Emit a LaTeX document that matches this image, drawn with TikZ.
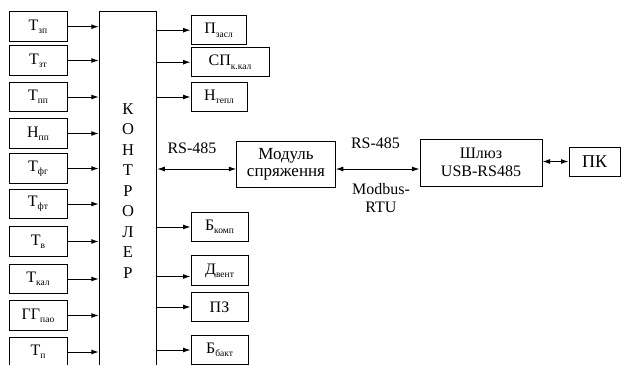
\documentclass[tikz,border=0pt]{standalone}
\usepackage{fontspec}
\setmainfont{Liberation Serif}
\usetikzlibrary{arrows.meta, positioning}
\newcommand{\lowidx}[1]{\raisebox{-0.45ex}{\fontsize{9.5}{10}\selectfont #1}}

\begin{document}
\begin{tikzpicture}[x=1pt, y=-1pt, font=\fontsize{16}{18}\selectfont]
    % Stijlen
    \tikzstyle{sensor} = [rectangle, minimum width=58pt, minimum height=29.5pt, inner sep=0pt, text centered, draw=black, line width=1pt]
    \tikzstyle{vykon} = [rectangle, minimum height=29.5pt, inner sep=0pt, text centered, draw=black, line width=1pt]
    \tikzstyle{kontroler} = [rectangle, minimum width=57.5pt, minimum height=358.6pt, align=center, draw=black, line width=1pt, font=\fontsize{16.5}{20.5}\selectfont]
    \tikzstyle{blok} = [rectangle, inner sep=0pt, align=center, draw=black, line width=1pt]
    \tikzstyle{arrow} = [line width=1pt, -{Latex[length=7.5pt, width=5pt]}]
    \tikzstyle{dblarrow} = [line width=1pt, {Latex[length=7.5pt, width=5pt]}-{Latex[length=7.5pt, width=5pt]}]

    \useasboundingbox (0,0) rectangle (623,364);

    % Datchyky
    \node (tzp) [sensor] at (38,26.7) {Т\lowidx{зп}};
    \node (tzt) [sensor] at (38,60.5) {Т\lowidx{зт}};
    \node (tpp) [sensor] at (38,97) {Т\lowidx{пп}};
    \node (npp) [sensor] at (38,133.5) {Н\lowidx{пп}};
    \node (tfg) [sensor] at (38,168.5) {Т\lowidx{фг}};
    \node (tft) [sensor] at (38,204) {Т\lowidx{фт}};
    \node (tv) [sensor] at (38,241.5) {Т\lowidx{в}};
    \node (tkal) [sensor] at (38,279) {Т\lowidx{кал}};
    \node (ggpao) [sensor] at (38,315.5) {ГГ\lowidx{пао}};
    \node (tp) [sensor] at (38,352) {Т\lowidx{п}};

    % Kontroler
    \node (kontr) [kontroler] at (128,190.8) {К\\О\\Н\\Т\\Р\\О\\Л\\Е\\Р};

    % Vykonavchi
    \node (pzasl) [vykon, minimum width=55pt] at (218.5,30.2) {П\lowidx{засл}};
    \node (spkal) [vykon, minimum width=78pt] at (230,62.2) {СП\lowidx{к.кал}};
    \node (ntepl) [vykon, minimum width=56pt] at (219,97) {Н\lowidx{тепл}};
    \node (bkomp) [vykon, minimum width=57pt] at (219.5,227) {Б\lowidx{комп}};
    \node (dvent) [vykon, minimum width=57pt] at (219.5,270.5) {Д\lowidx{вент}};
    \node (pz) [vykon, minimum width=57pt] at (219.5,307) {ПЗ};
    \node (bbakt) [vykon, minimum width=57pt] at (219.5,350) {Б\lowidx{бакт}};

    % Zv'yazok
    \node (modul) [blok, minimum width=98.5pt, minimum height=46pt, font=\fontsize{17}{16.5}\selectfont] at (286,164) {Модуль\\спряження};
    \node (shluz) [blok, minimum width=122pt, minimum height=47pt] at (481,162.5) {Шлюз\\USB-RS485};
    \node (pk) [blok, minimum width=51pt, minimum height=29pt, font=\fontsize{18}{20}\selectfont] at (594.5,161.5) {ПК};

    \node (rs1) at (192,148) {RS-485};
    \node (rs2) at (375.5,143.5) {RS-485};
    \node (modbus) [align=center] at (381,198.5) {Modbus-\\RTU};

    % Strilky
    \draw [arrow] (tzp) -- (tzp -| kontr.west);
    \draw [arrow] (tzt) -- (tzt -| kontr.west);
    \draw [arrow] (tpp) -- (tpp -| kontr.west);
    \draw [arrow] (npp) -- (npp -| kontr.west);
    \draw [arrow] (tfg) -- (tfg -| kontr.west);
    \draw [arrow] (tft) -- (tft -| kontr.west);
    \draw [arrow] (tv) -- (tv -| kontr.west);
    \draw [arrow] (tkal) -- (tkal -| kontr.west);
    \draw [arrow] (ggpao) -- (ggpao -| kontr.west);
    \draw [arrow] (tp) -- (tp -| kontr.west);

    \draw [arrow] (pzasl -| kontr.east) -- (pzasl);
    \draw [arrow] (spkal -| kontr.east) -- (spkal);
    \draw [arrow] (ntepl -| kontr.east) -- (ntepl);
    \draw [arrow] (bkomp -| kontr.east) -- (bkomp);
    \coordinate (dv) at ([yshift=-6pt]dvent.west);
    \draw [arrow] (dv -| kontr.east) -- (dv);
    \draw [arrow] (pz -| kontr.east) -- (pz);
    \draw [arrow] (bbakt -| kontr.east) -- (bbakt);

    \coordinate (mw) at ([yshift=-5pt]modul.west);
    \coordinate (me) at ([yshift=-5pt]modul.east);
    \draw [dblarrow] (mw -| kontr.east) -- (mw);
    \draw [dblarrow] (me) -- (me -| shluz.west);
    \draw [dblarrow] (pk -| shluz.east) -- (pk);

\end{tikzpicture}
\end{document}
